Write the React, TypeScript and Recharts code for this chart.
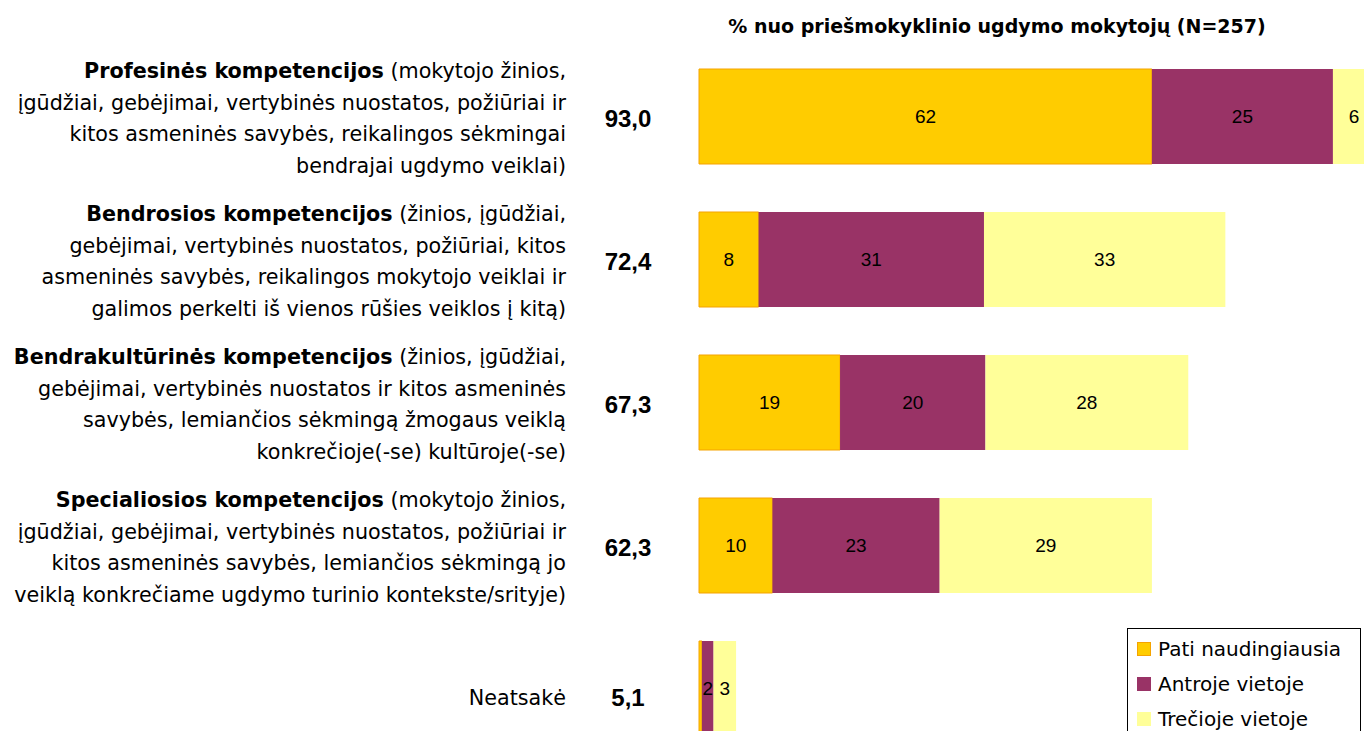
import React from 'react';
import { BarChart, Bar, XAxis, YAxis, LabelList } from 'recharts';

const categories = ['Profesinės', 'Bendrosios', 'Bendrakultūrinės', 'Specialiosios', 'Neatsakė'];

const boldParts = [
  'Profesinės kompetencijos',
  'Bendrosios kompetencijos',
  'Bendrakultūrinės kompetencijos',
  'Specialiosios kompetencijos',
  '',
];

const textLines = [
  [' (mokytojo žinios,', 'įgūdžiai, gebėjimai, vertybinės nuostatos, požiūriai ir', 'kitos asmeninės savybės, reikalingos sėkmingai', 'bendrajai ugdymo veiklai)'],
  [' (žinios, įgūdžiai,', 'gebėjimai, vertybinės nuostatos, požiūriai, kitos', 'asmeninės savybės, reikalingos mokytojo veiklai ir', 'galimos perkelti iš vienos rūšies veiklos į kitą)'],
  [' (žinios, įgūdžiai,', 'gebėjimai, vertybinės nuostatos ir kitos asmeninės', 'savybės, lemiančios sėkmingą žmogaus veiklą', 'konkrečioje(-se) kultūroje(-se)'],
  [' (mokytojo žinios,', 'įgūdžiai, gebėjimai, vertybinės nuostatos, požiūriai ir', 'kitos asmeninės savybės, lemiančios sėkmingą jo', 'veiklą konkrečiame ugdymo turinio kontekste/srityje)'],
  ['Neatsakė'],
];

const first = [62.3, 8.2, 19.4, 10.1, 0.4];
const second = [24.9, 31.0, 20.0, 23.0, 1.6];
const third = [5.8, 33.2, 27.9, 29.2, 3.1];
const totals = [93.0, 72.4, 67.3, 62.3, 5.1];

const seriesNames = ['Pati naudingiausia', 'Antroje vietoje', 'Trečioje vietoje'];
const colors = ['#FFCC00', '#993366', '#FFFF99'];

const data = categories.map((name, i) => ({
  name,
  first: first[i],
  second: second[i],
  third: third[i],
}));

const textFont = '"DejaVu Sans", Verdana, sans-serif';
const numFont = '"Liberation Sans", Arial, sans-serif';

const fmt = (v: any) => (Number(v) < 1 ? '' : Math.round(Number(v)));

function CategoryTick(props: any) {
  const { y, index } = props;
  const lines = textLines[index];
  const bold = boldParts[index];
  const gap = 31.5;
  const shift = index === 4 ? 9 : 2;
  const top = y + shift - ((lines.length - 1) / 2) * gap;
  return (
    <g>
      <text x={566} y={top} textAnchor="end" dominantBaseline="central" fontFamily={textFont} fontSize={20.7} fill="#000">
        {lines.map((line, li) => (
          <tspan key={li} x={566} y={top + li * gap}>
            {li === 0 && bold ? <tspan fontWeight="bold">{bold}</tspan> : null}
            {line}
          </tspan>
        ))}
      </text>
      <text x={628} y={y + shift} textAnchor="middle" dominantBaseline="central" fontFamily={numFont} fontSize={24} fontWeight="bold" fill="#000">
        {totals[index].toFixed(1).replace('.', ',')}
      </text>
    </g>
  );
}

function LegendBox() {
  return (
    <div style={{ position: 'absolute', left: 1127, top: 628, width: 234, height: 120, border: '1px solid #000', background: '#fff', fontFamily: textFont, fontSize: 20, boxSizing: 'border-box', paddingTop: 2, paddingLeft: 9 }}>
      {seriesNames.map((n, i) => (
        <div key={n} style={{ display: 'flex', alignItems: 'center', height: 35 }}>
          <span style={{ display: 'inline-block', width: 14, height: 14, boxSizing: 'border-box', background: colors[i], border: i === 0 ? '1px solid #F5A300' : 'none', marginRight: 7 }} />
          <span>{n}</span>
        </div>
      ))}
    </div>
  );
}

export default function App() {
  return (
    <div style={{ position: 'absolute', left: 0, top: 0, width: 1364, height: 731, overflow: 'hidden', background: '#fff' }}>
      <div style={{ position: 'absolute', left: 697, top: 15, width: 600, textAlign: 'center', fontFamily: textFont, fontWeight: 'bold', fontSize: 19 }}>
        % nuo priešmokyklinio ugdymo mokytojų (N=257)
      </div>
      <BarChart
        width={1426}
        height={760}
        data={data}
        layout="vertical"
        barSize={95}
        margin={{ top: 45, right: 0, bottom: 0, left: 0 }}
      >
        <XAxis type="number" domain={[0, 100]} hide />
        <YAxis type="category" dataKey="name" width={699} axisLine={false} tickLine={false} tick={<CategoryTick />} />
        <Bar dataKey="first" stackId="a" fill={colors[0]} stroke="#F5A300" strokeWidth={1} isAnimationActive={false}>
          <LabelList dataKey="first" position="center" formatter={fmt} fill="#000" fontSize={19} fontFamily={numFont} />
        </Bar>
        <Bar dataKey="second" stackId="a" fill={colors[1]} isAnimationActive={false}>
          <LabelList dataKey="second" position="center" formatter={fmt} fill="#000" fontSize={19} fontFamily={numFont} />
        </Bar>
        <Bar dataKey="third" stackId="a" fill={colors[2]} isAnimationActive={false}>
          <LabelList dataKey="third" position="center" formatter={fmt} fill="#000" fontSize={19} fontFamily={numFont} />
        </Bar>
      </BarChart>
      <LegendBox />
    </div>
  );
}
